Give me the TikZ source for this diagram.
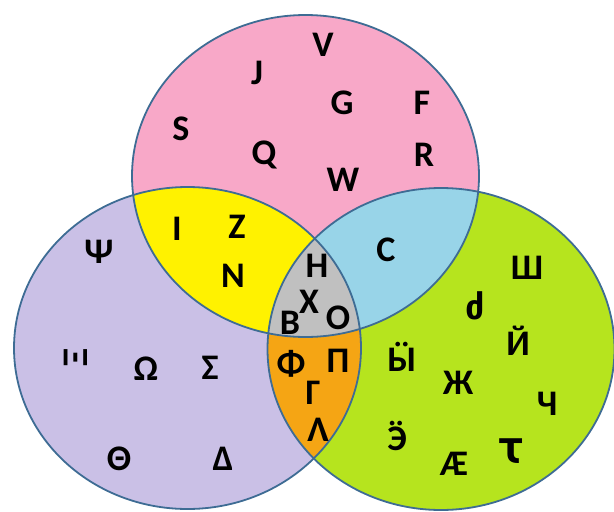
\documentclass[tikz,border=0pt]{standalone}
\usepackage{fontspec}
\setmainfont{Carlito}
\newfontfamily\dejavu{DejaVu Sans}
\definecolor{latinpink}{RGB}{248,168,200}
\definecolor{greeklilac}{RGB}{202,192,230}
\definecolor{cyrlime}{RGB}{182,228,30}
\definecolor{lgyellow}{RGB}{255,242,0}
\definecolor{lcblue}{RGB}{152,212,232}
\definecolor{gcorange}{RGB}{245,165,20}
\definecolor{allgray}{RGB}{192,192,192}
\definecolor{rimblue}{RGB}{62,108,148}
\newcommand{\latinset}{(305.5,176) ellipse [x radius=173.5, y radius=161]}
\newcommand{\greekset}{(187.5,348) ellipse [x radius=173.5, y radius=161]}
\newcommand{\cyrset}{(441,349) ellipse [x radius=173.5, y radius=161]}
\tikzset{
  rim/.style={line width=1.8pt, draw=rimblue},
  letter/.style={font=\bfseries\fontsize{36}{36}\selectfont, inner sep=0pt},
  oddletter/.style={font=\dejavu\bfseries\fontsize{34}{34}\selectfont, inner sep=0pt}
}

\begin{document}
\begin{tikzpicture}[x=1pt,y=1pt,yscale=-1]
  \useasboundingbox (0,0) rectangle (614,512);

  % the three sets
  \fill[latinpink] \latinset;
  \fill[greeklilac] \greekset;
  \fill[cyrlime] \cyrset;

  % overlaps
  \begin{scope}
    \clip \latinset;
    \fill[lgyellow] \greekset;
    \fill[lcblue] \cyrset;
  \end{scope}
  \begin{scope}
    \clip \greekset;
    \fill[gcorange] \cyrset;
  \end{scope}
  \begin{scope}
    \clip \latinset;
    \clip \greekset;
    \fill[allgray] \cyrset;
  \end{scope}

  \draw[rim] \latinset;
  \draw[rim] \greekset;
  \draw[rim] \cyrset;

  % latin only
  \node[letter] (V) at (323,45) {V};
  \node[letter] (J) at (257,73) {J};
  \node[letter] (G) at (342,103) {G};
  \node[letter] (F) at (422,103) {F};
  \node[letter] (S) at (181,129) {S};
  \node[letter] (Q) at (264,155) {Q};
  \node[letter] (R) at (424,155) {R};
  \node[letter] (W) at (343,180) {W};

  % latin and greek
  \node[letter] (I) at (177,229) {I};
  \node[letter] (Z) at (237,227) {Z};
  \node[letter] (N) at (233,276) {N};

  % latin and cyrillic
  \node[letter] (C) at (386,250) {C};

  % all three
  \node[letter] (H) at (317,266) {H};
  \node[letter] (X) at (309,302) {X};
  \node[letter] (B) at (290,323) {B};
  \node[letter] (O) at (338,318) {O};

  % greek and cyrillic
  \node[letter] (Phi) at (291,364) {Φ};
  \node[letter] (Pi) at (338,361) {Π};
  \node[letter] (Gamma) at (313,393) {Γ};
  \node[letter] (Lambda) at (318,430) {Λ};

  % greek only
  \node[letter] (Psi) at (99,252) {Ψ};
  \node[letter,rotate=90] (Xi) at (76,358) {Ξ};
  \node[letter] (Omega) at (146,369) {Ω};
  \node[letter] (Sigma) at (210,368) {Σ};
  \node[letter] (Theta) at (119,459) {Θ};
  \node[letter] (Delta) at (223,459) {Δ};

  % cyrillic only
  \node[letter] (Sha) at (527,268) {Ш};
  \node[oddletter] (Dzil) at (475,306) {ძ};
  \node[letter] (Ishort) at (518,341) {Й};
  \node[letter] (Yeru) at (402,357) {Ӹ};
  \node[letter] (Zhe) at (458,383) {Ж};
  \node[letter] (Che) at (547,404) {Ч};
  \node[letter] (Ereversed) at (397,436) {Ӭ};
  \node[oddletter] (Tehook) at (511,451) {Ꚍ};
  \node[letter] (Ae) at (454,464) {Ӕ};
\end{tikzpicture}
\end{document}
